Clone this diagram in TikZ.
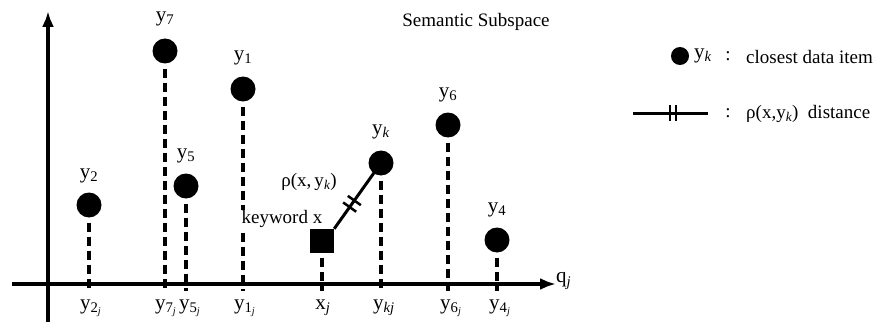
\documentclass[tikz,border=0pt]{standalone}
\usepackage{fontspec}
\setmainfont{Liberation Serif}
\usetikzlibrary{arrows.meta,calc}
\newcommand\ysub[2]{y\textsubscript{#1\textsubscript{\itshape #2}}}
\begin{document}
\begin{tikzpicture}[x=1pt,y=-1pt,
  axis/.style={line width=4.5pt,-{Latex[length=16pt,width=12pt]}},
  item/.style={circle,fill=black,inner sep=0pt,minimum size=25pt},
  proj/.style={line width=3.5pt,dash pattern=on 9pt off 5pt},
  lab/.style={font=\fontsize{21}{21}\selectfont,inner sep=1pt},
  txt/.style={font=\fontsize{19}{19}\selectfont,inner sep=1pt},
  hash/.style={line width=2.5pt}]
\useasboundingbox (0,0) rectangle (894,329);
% axes
\coordinate (xs) at (12,284);
\coordinate (xe) at (556,284);
\coordinate (vs) at (48,322);
\coordinate (ve) at (48,11);
\draw[axis] (xs) -- (xe);
\draw[axis] (vs) -- (ve);
\node[lab,anchor=west] (qj) at (555,281) {q\textsubscript{\itshape j}};
\node[txt] (title) at (476,22) {Semantic Subspace};
% items
\node[item] (y2) at (89,205) {};
\node[item] (y7) at (165,51) {};
\node[item] (y5) at (186,186) {};
\node[item] (y1) at (243,89) {};
\node[item] (yk) at (381,163) {};
\node[item] (y6) at (448,125) {};
\node[item] (y4) at (497,240) {};
\node[rectangle,fill=black,inner sep=0pt,minimum size=24pt] (sq) at (322,241) {};
% labels above
\node[lab] (ly2) at (89,176) {y\textsubscript{2}};
\node[lab] (ly7) at (165,19) {y\textsubscript{7}};
\node[lab] (ly5) at (186,156) {y\textsubscript{5}};
\node[lab] (ly1) at (243,58) {y\textsubscript{1}};
\node[lab] (lyk) at (381,132) {y\textsubscript{\itshape k}};
\node[lab] (ly6) at (448,95) {y\textsubscript{6}};
\node[lab] (ly4) at (497,210) {y\textsubscript{4}};
% axis points
\coordinate (t2) at (89,291);
\coordinate (t7) at (165,291);
\coordinate (t5) at (186,291);
\coordinate (t1) at (243,291);
\coordinate (tx) at (322,291);
\coordinate (tk) at (381,291);
\coordinate (t6) at (448,291);
\coordinate (t4) at (497,291);
\draw[proj] ([yshift=-5pt]y2.south) -- (t2);
\draw[proj] ([yshift=-5pt]y7.south) -- (t7);
\draw[proj] ([yshift=-5pt]y5.south) -- (t5);
\draw[proj] ([yshift=-5pt]y1.south) -- (t1);
\draw[proj] ([yshift=-5pt]sq.south) -- (tx);
\draw[proj] ([yshift=-5pt]yk.south) -- (tk);
\draw[proj] ([yshift=-5pt]y6.south) -- (t6);
\draw[proj] ([yshift=-5pt]y4.south) -- (t4);
\node[txt,anchor=east,fill=white,inner sep=0.5pt] (kw) at (323,219) {keyword x};
\node[txt] (rho) at (309,182) {ρ(x,\,y\textsubscript{\itshape k})};
% axis labels
\node[lab] (a2) at (91,308) {\ysub{2}{j}};
\node[lab] (a7) at (166,308) {\ysub{7}{j}};
\node[lab] (a5) at (190,308) {\ysub{5}{j}};
\node[lab] (a1) at (245,308) {\ysub{1}{j}};
\node[lab] (ax) at (323,308) {x\textsubscript{\itshape j}};
\node[lab] (ak) at (384,308) {y\textsubscript{\itshape kj}};
\node[lab] (a6) at (451,308) {\ysub{6}{j}};
\node[lab] (a4) at (500,308) {\ysub{4}{j}};
% distance line
\draw[line width=3pt] (sq.north east) -- (yk.center);
\coordinate (m1) at ($(sq.north east)!0.33!(yk.center)$);
\coordinate (m2) at ($(sq.north east)!0.43!(yk.center)$);
\draw[hash] ($(m1)!8pt!90:(yk.center)$) -- ($(m1)!8pt!-90:(yk.center)$);
\draw[hash] ($(m2)!8pt!90:(yk.center)$) -- ($(m2)!8pt!-90:(yk.center)$);
% legend
\node[circle,fill=black,inner sep=0pt,minimum size=18pt] (lc) at (680,56) {};
\node[lab,anchor=west] (lyk2) at (693,56) {y\textsubscript{\itshape k}};
\node[txt] (c1) at (728,56) {:};
\node[txt,anchor=west] (ld1) at (745,57) {closest data item};
\coordinate (ls) at (633,113);
\coordinate (le) at (708,113);
\draw[line width=3pt] (ls) -- (le);
\draw[hash] (670,105) -- (670,121);
\draw[hash] (676,105) -- (676,121);
\node[txt] (c2) at (728,113) {:};
\node[txt,anchor=west] (ld2) at (745,114) {ρ(x,y\textsubscript{\itshape k})\enspace distance};
\end{tikzpicture}
\end{document}
